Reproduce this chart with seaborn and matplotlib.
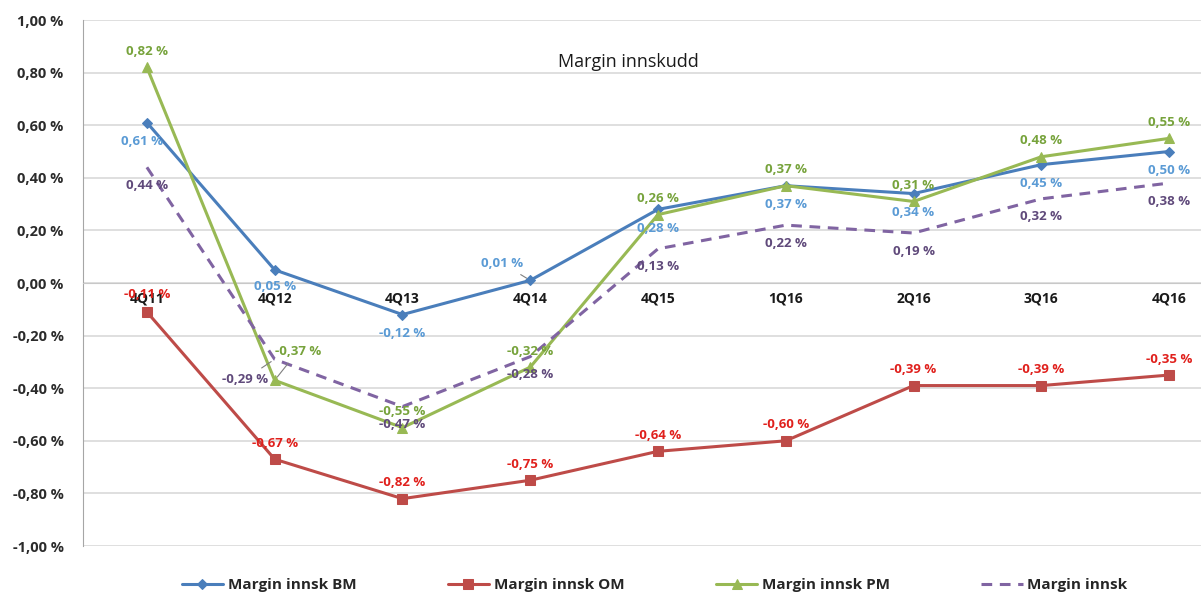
import numpy as np
import pandas as pd
import matplotlib
matplotlib.use('Agg')
import matplotlib.pyplot as plt
from matplotlib.ticker import FuncFormatter, FixedLocator
import seaborn as sns

# data
kvartaler = ['4Q11', '4Q12', '4Q13', '4Q14', '4Q15', '1Q16', '2Q16', '3Q16', '4Q16']
margin_bm = [0.61, 0.05, -0.12, 0.01, 0.28, 0.37, 0.34, 0.45, 0.50]
margin_om = [-0.11, -0.67, -0.82, -0.75, -0.64, -0.60, -0.39, -0.39, -0.35]
margin_pm = [0.82, -0.37, -0.55, -0.32, 0.26, 0.37, 0.31, 0.48, 0.55]
margin_tot = [0.44, -0.29, -0.47, -0.28, 0.13, 0.22, 0.19, 0.32, 0.38]

sns.set_style('white')
plt.rcParams['font.family'] = ['Open Sans', 'DejaVu Sans']

fig = plt.figure(figsize=(12.01, 5.94), dpi=100)
ax = fig.add_axes([83 / 1201, 48 / 594, 1150 / 1201, 526 / 594])

x = np.arange(len(kvartaler))

serier = [
    ('Margin innsk BM', margin_bm, '#4a7ebb', 'D', 5, '-', '#5b9bd5'),
    ('Margin innsk OM', margin_om, '#be4b48', 's', 7, '-', '#e0201c'),
    ('Margin innsk PM', margin_pm, '#98b954', '^', 7, '-', '#77a33c'),
    ('Margin innsk', margin_tot, '#8064a2', None, 0, (0, (3.5, 2.5)), '#604a7b'),
]

for navn, verdier, farge, mk, ms, ls, _ in serier:
    sns.lineplot(x=x, y=verdier, ax=ax, color=farge, marker=mk, markersize=ms,
                 markeredgecolor=farge, linestyle=ls, linewidth=2.2, label=navn,
                 zorder=3)


def fmt(v):
    if abs(v) < 1e-9:
        v = 0.0
    return f'{v:.2f} %'.replace('.', ',')


# standard placement of data labels (pixels), with a few exceptions
plassering = {
    'Margin innsk BM': (0, -19, {0: (-5, -19), 1: (0, -17), 3: (-28, 17)}),
    'Margin innsk OM': (0, 16, {0: (0, 17)}),
    'Margin innsk PM': (0, 16, {1: (23, 29)}),
    'Margin innsk': (0, -18, {1: (-30, -20)}),
}
ledere = {('Margin innsk BM', 3), ('Margin innsk PM', 1), ('Margin innsk', 1)}

for navn, verdier, farge, mk, ms, ls, tfarge in serier:
    dx0, dy0, unntak = plassering[navn]
    for i, v in enumerate(verdier):
        dx, dy = unntak.get(i, (dx0, dy0))
        kw = {}
        if (navn, i) in ledere:
            kw['arrowprops'] = dict(arrowstyle='-', color='#7f7f7f', lw=0.8,
                                    shrinkA=2, shrinkB=3)
        ax.annotate(fmt(v), (i, v), xytext=(dx, dy), textcoords='offset pixels',
                    ha='center', va='center', fontsize=9.5, fontweight='bold',
                    color=tfarge, zorder=5, **kw)

ax.set_xlim(-0.5, len(kvartaler) - 0.5)
ax.set_ylim(-1.0, 1.0)
ax.set_yticks(np.arange(-1.0, 1.01, 0.2))
ax.yaxis.set_major_formatter(FuncFormatter(lambda v, p: fmt(v)))
ax.yaxis.grid(True, color='#d9d9d9', linewidth=1.2)
ax.set_axisbelow(True)
ax.tick_params(axis='y', length=0, pad=14, labelsize=10.5, labelcolor='#2b2b2b')
for lab in ax.get_yticklabels():
    lab.set_fontweight('bold')

# category axis sits at zero, labels just under it
ax.spines['bottom'].set_position(('data', 0))
ax.spines['bottom'].set_color('#c8c8c8')
ax.spines['top'].set_visible(False)
ax.spines['right'].set_visible(False)
ax.spines['left'].set_color('#a6a6a6')
ax.set_xticks(x)
ax.set_xticklabels(kvartaler, fontweight='bold', fontsize=10, color='#1a1a1a')
ax.xaxis.set_minor_locator(FixedLocator(x[:-1] + 0.5))
ax.tick_params(axis='x', which='major', length=0, pad=6)
ax.tick_params(axis='x', which='minor', length=5, color='#a6a6a6', direction='out')
ax.set_xlabel('')
ax.set_ylabel('')

ax.text(0.474, 0.92, 'Margin innskudd', transform=ax.transAxes, ha='center',
        va='center', fontsize=13, color='#1a1a1a')

handles, labels = ax.get_legend_handles_labels()
ax.get_legend().remove()
fig.legend(handles, labels, loc='center', bbox_to_anchor=(0.545, 0.015), ncol=4,
           frameon=False, prop={'size': 11, 'weight': 'bold'}, handlelength=2.7,
           columnspacing=6.0, handletextpad=0.3)

fig.savefig('out.png', dpi=100)
